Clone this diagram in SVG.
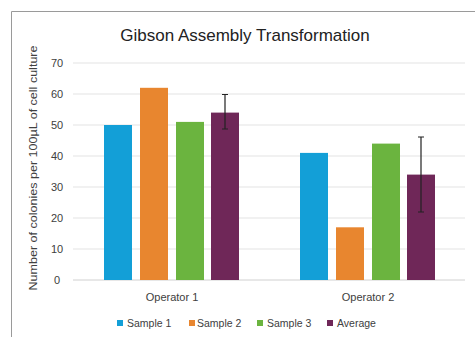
<svg xmlns="http://www.w3.org/2000/svg" width="475" height="337" viewBox="0 0 475 337">
<style>
text{font-family:"Liberation Sans",Arial,sans-serif;fill:#404040}
.tick{font-size:11px;text-anchor:middle}
.grid{stroke:#e3e3e3;stroke-width:1}
.s1{fill:#139fd7}.s2{fill:#e8862f}.s3{fill:#6bb43f}.avg{fill:#6f2758}
.err{stroke:#222;stroke-width:1.2;fill:none}
.leg{font-size:10.5px}
</style>
<rect width="475" height="337" fill="#fff"/>
<path d="M11.5 337V11.5H475" fill="none" stroke="#9a9a9a" stroke-width="1"/>
<text x="245" y="41" font-size="17" text-anchor="middle" style="fill:#222">Gibson Assembly Transformation</text>
<g id="grid">
<line class="grid" x1="73" y1="63" x2="465" y2="63"/>
<line class="grid" x1="73" y1="94" x2="465" y2="94"/>
<line class="grid" x1="73" y1="125" x2="465" y2="125"/>
<line class="grid" x1="73" y1="156" x2="465" y2="156"/>
<line class="grid" x1="73" y1="187" x2="465" y2="187"/>
<line class="grid" x1="73" y1="218" x2="465" y2="218"/>
<line class="grid" x1="73" y1="249" x2="465" y2="249"/>
<line x1="73" y1="280" x2="465" y2="280" stroke="#d0d0d0"/>
</g>
<g id="yaxis">
<text class="tick" x="57" y="67">70</text>
<text class="tick" x="57" y="98">60</text>
<text class="tick" x="57" y="129">50</text>
<text class="tick" x="57" y="160">40</text>
<text class="tick" x="57" y="191">30</text>
<text class="tick" x="57" y="222">20</text>
<text class="tick" x="57" y="253">10</text>
<text class="tick" x="57" y="284">0</text>
<text transform="translate(37 168) rotate(-90)" font-size="11" text-anchor="middle" textLength="245" lengthAdjust="spacingAndGlyphs">Number of colonies per 100µL of cell culture</text>
</g>
<g id="op1">
<rect class="s1" x="104" y="125" width="28" height="155"/>
<rect class="s2" x="140" y="87.8" width="28" height="192.2"/>
<rect class="s3" x="176" y="121.9" width="28" height="158.1"/>
<rect class="avg" x="211" y="112.6" width="28" height="167.4"/>
<text x="172" y="301" font-size="11" text-anchor="middle">Operator 1</text>
</g>
<g id="op2">
<rect class="s1" x="300" y="152.9" width="28" height="127.1"/>
<rect class="s2" x="336" y="227.3" width="28" height="52.7"/>
<rect class="s3" x="372" y="143.6" width="28" height="136.4"/>
<rect class="avg" x="407" y="174.6" width="28" height="105.4"/>
<text x="368" y="301" font-size="11" text-anchor="middle">Operator 2</text>
</g>
<g id="errorbars">
<path class="err" d="M225 94.5V129M222 94.5H228M222 129H228"/>
<path class="err" d="M421 137V212M418 137H424M418 212H424"/>
</g>
<g id="legend">
<rect class="s1" x="117" y="320" width="6" height="6"/>
<text class="leg" x="127" y="327">Sample 1</text>
<rect class="s2" x="189" y="320" width="6" height="6"/>
<text class="leg" x="197" y="327">Sample 2</text>
<rect class="s3" x="257" y="320" width="6" height="6"/>
<text class="leg" x="267" y="327">Sample 3</text>
<rect class="avg" x="327" y="320" width="6" height="6"/>
<text class="leg" x="337" y="327">Average</text>
</g>
</svg>
